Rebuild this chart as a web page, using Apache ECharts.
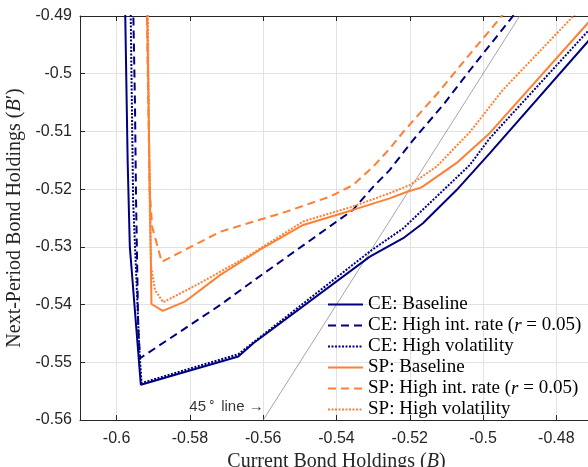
<!DOCTYPE html>
<html>
<head>
<meta charset="utf-8">
<script src="https://cdn.jsdelivr.net/npm/echarts@6/dist/echarts.min.js"></script>
<style>
  html, body { margin: 0; background: #fff; }
  #chart { width: 588px; height: 467px; }
</style>
</head>
<body>
<div id="chart"></div>
<script>
// policy functions B' = f(B)
const ceBaseline = [
  [-0.5977, -0.488], [-0.5970, -0.515], [-0.5964, -0.530], [-0.5934, -0.5539],
  [-0.5668, -0.5490], [-0.5627, -0.5467], [-0.5309, -0.5317], [-0.5218, -0.5285],
  [-0.5164, -0.5259], [-0.5073, -0.5202], [-0.4982, -0.5138], [-0.4715, -0.4945],
  [-0.4700, -0.4934]
];
const ceHighRate = [
  [-0.5955, -0.488], [-0.5950, -0.505], [-0.5947, -0.522], [-0.5941, -0.5443],
  [-0.5936, -0.5493], [-0.5718, -0.5401], [-0.5636, -0.5363], [-0.5355, -0.5236],
  [-0.5300, -0.5196], [-0.5255, -0.5167], [-0.5191, -0.5115], [-0.5105, -0.5051],
  [-0.5036, -0.4994], [-0.4927, -0.4907], [-0.4910, -0.4893]
];
const ceHighVol = [
  [-0.5962, -0.488], [-0.5955, -0.522], [-0.5938, -0.5479], [-0.5932, -0.5536],
  [-0.5668, -0.5486], [-0.5309, -0.5308], [-0.5218, -0.5268], [-0.5127, -0.5213],
  [-0.5036, -0.5158], [-0.4982, -0.5112], [-0.4715, -0.4927], [-0.4700, -0.4917]
];
const spBaseline = [
  [-0.5917, -0.488], [-0.5909, -0.5219], [-0.5905, -0.5399], [-0.5874, -0.5411],
  [-0.5814, -0.5395], [-0.5718, -0.5349], [-0.5609, -0.5305], [-0.5491, -0.5262],
  [-0.5355, -0.5236], [-0.5255, -0.5216], [-0.5205, -0.5204], [-0.5168, -0.5197],
  [-0.5073, -0.5155], [-0.4982, -0.5103], [-0.4715, -0.4913], [-0.4700, -0.4902]
];
const spHighRate = [
  [-0.5918, -0.488], [-0.5910, -0.520], [-0.5903, -0.5265], [-0.5877, -0.5326],
  [-0.5718, -0.5274], [-0.5537, -0.5239], [-0.5418, -0.5213], [-0.5355, -0.5193],
  [-0.5300, -0.5161], [-0.5255, -0.5130], [-0.5218, -0.5101], [-0.5127, -0.5036],
  [-0.5036, -0.4966], [-0.4950, -0.4901], [-0.4940, -0.4890]
];
const spHighVol = [
  [-0.5915, -0.488], [-0.5910, -0.5219], [-0.5906, -0.5334], [-0.5895, -0.5375],
  [-0.5873, -0.5396], [-0.5773, -0.5363], [-0.5636, -0.5314], [-0.5491, -0.5256],
  [-0.5355, -0.5230], [-0.5255, -0.5207], [-0.5200, -0.5193], [-0.5127, -0.5161],
  [-0.5036, -0.5101], [-0.4946, -0.5028], [-0.4755, -0.4901], [-0.4740, -0.4890]
];
const diagonal = [[-0.56, -0.56], [-0.49, -0.49]];
const diagLabelAt = [[-0.5596, -0.5577]];

const xTicks = [-0.6, -0.58, -0.56, -0.54, -0.52, -0.5, -0.48];
const xRange = [-0.61, -0.47];
const yRange = [-0.56, -0.49];

const names = [
  'CE: Baseline', 'CE: High int. rate (r = 0.05)', 'CE: High volatility',
  'SP: Baseline', 'SP: High int. rate (r = 0.05)', 'SP: High volatility'
];
const navy = '#000080';
const orange = '#ff7f33';

const chart = echarts.init(document.getElementById('chart'));

function curve(name, data, color, type) {
  return {
    name: name,
    type: 'line',
    data: data,
    symbol: 'none',
    silent: true,
    lineStyle: { color: color, width: 2, type: type },
    itemStyle: { color: color }
  };
}

const fmt = v => String(+(+v).toFixed(3));
const serif = '"Liberation Serif", "Times New Roman", serif';
const sans = '"Liberation Sans", Arial, sans-serif';

chart.setOption({
  animation: false,
  grid: { left: 80, top: 16, width: 513, height: 404, containLabel: false, outerBoundsMode: 'none' },
  legend: {
    data: names,
    orient: 'vertical',
    left: 327,
    top: 294,
    itemWidth: 35,
    itemHeight: 14,
    itemGap: 0,
    padding: 0,
    selectedMode: false,
    itemStyle: { opacity: 0 },
    textStyle: { fontFamily: serif, fontSize: 19, color: '#000', lineHeight: 21,
      rich: { i: { fontFamily: serif, fontSize: 19, fontStyle: 'italic', color: '#000' } } },
    formatter: n => n.replace('(r =', '({i|r} =')
  },
  xAxis: [{
    type: 'value', min: xRange[0], max: xRange[1],
    name: 'Current Bond Holdings ({i|B})',
    nameLocation: 'middle', nameGap: 32,
    nameTextStyle: { fontFamily: serif, fontSize: 20, color: '#262626',
      rich: { i: { fontFamily: serif, fontSize: 20, fontStyle: 'italic', color: '#262626' } } },
    axisLine: { lineStyle: { color: '#262626', width: 1 } },
    axisTick: { inside: true, length: 5, customValues: xTicks, lineStyle: { color: '#262626' } },
    axisLabel: { customValues: xTicks, formatter: fmt, margin: 11, fontFamily: sans, fontSize: 16, color: '#262626' },
    splitLine: { show: true, lineStyle: { color: '#e2e2e2', width: 1 } }
  }, {
    type: 'value', min: xRange[0], max: xRange[1], position: 'top',
    axisLine: { lineStyle: { color: '#262626', width: 1 } },
    axisTick: { inside: true, length: 5, customValues: xTicks, lineStyle: { color: '#262626' } },
    axisLabel: { show: false },
    splitLine: { show: false }
  }],
  yAxis: [{
    type: 'value', min: yRange[0], max: yRange[1], interval: 0.01,
    name: 'Next-Period Bond Holdings ({i|B}′)',
    nameLocation: 'middle', nameGap: 48,
    nameTextStyle: { fontFamily: serif, fontSize: 20, color: '#262626',
      rich: { i: { fontFamily: serif, fontSize: 20, fontStyle: 'italic', color: '#262626' } } },
    axisLine: { show: true, lineStyle: { color: '#262626', width: 1 } },
    axisTick: { show: true, inside: true, length: 5, lineStyle: { color: '#262626' } },
    axisLabel: { formatter: fmt, margin: 8, fontFamily: sans, fontSize: 16, color: '#262626' },
    splitLine: { show: true, lineStyle: { color: '#e2e2e2', width: 1 } }
  }, {
    type: 'value', min: yRange[0], max: yRange[1], interval: 0.01, position: 'right',
    axisLine: { show: true, lineStyle: { color: '#262626', width: 1 } },
    axisTick: { show: true, inside: true, length: 5, lineStyle: { color: '#262626' } },
    axisLabel: { show: false },
    splitLine: { show: false }
  }],
  series: [
    {
      type: 'line', data: diagonal, symbol: 'none', silent: true,
      lineStyle: { color: '#7f7f7f', width: 0.7 }
    },
    {
      type: 'scatter', data: diagLabelAt, symbolSize: 0, silent: true,
      label: {
        show: true, position: 'left', distance: 1,
        formatter: '{a|45}{s|∘}{a| line →}',
        rich: {
          a: { fontFamily: sans, fontSize: 15, color: '#000' },
          s: { fontFamily: sans, fontSize: 12, color: '#000', padding: [0, 1, 8, 2] }
        }
      }
    },
    curve(names[0], ceBaseline, navy, 'solid'),
    curve(names[1], ceHighRate, navy, [8, 5]),
    curve(names[2], ceHighVol, navy, [2, 1.5]),
    curve(names[3], spBaseline, orange, 'solid'),
    curve(names[4], spHighRate, orange, [8, 5]),
    curve(names[5], spHighVol, orange, [2, 1.5])
  ]
});
</script>
</body>
</html>
